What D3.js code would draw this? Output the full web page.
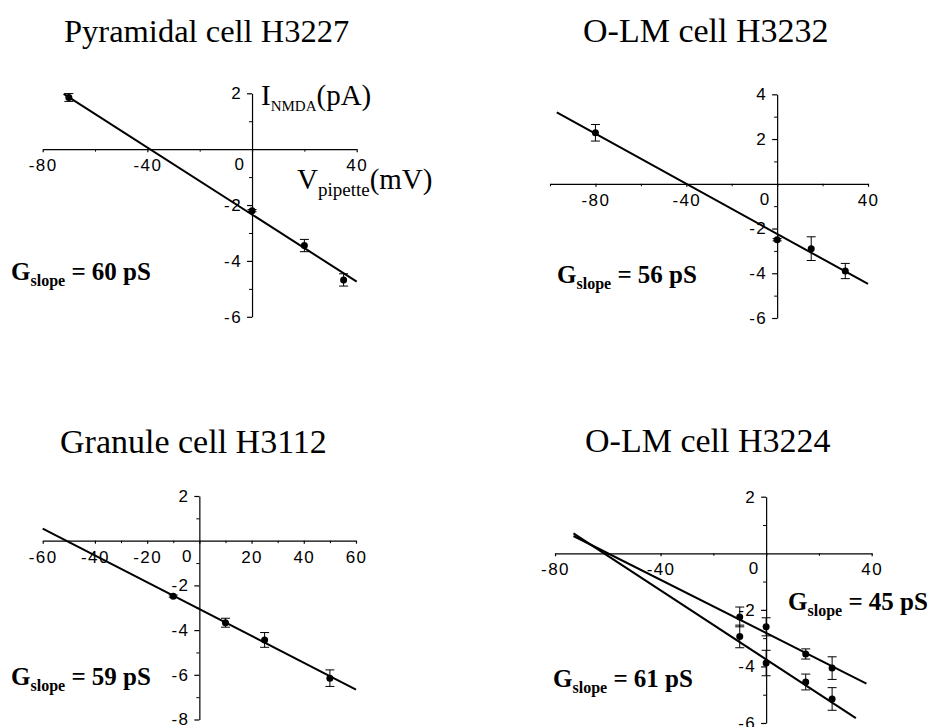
<!DOCTYPE html>
<html>
<head>
<meta charset="utf-8">
<script src="https://cdn.jsdelivr.net/npm/d3@7"></script>
<style>
  body { margin: 0; background: #fff; }
  svg { display: block; }
  .serif { font-family: "Liberation Serif", "Times New Roman", Times, serif; }
  .sans { font-family: "Liberation Sans", Arial, Helvetica, sans-serif; }
</style>
</head>
<body>
<script>
// Pyramidal cell H3227
const pyrV = [-70, 0, 20, 35];
const pyrI = [1.85, -2.2, -3.45, -4.68];
const pyrErr = [0.14, 0.04, 0.22, 0.22];
const pyrFit = { slope: -0.060, vrev: -39, from: -72, to: 40 };

// O-LM cell H3232
const olm1V = [-80, 0, 15, 30];
const olm1I = [2.28, -2.5, -2.9, -3.9];
const olm1Err = [0.37, 0.05, 0.53, 0.34];
const olm1Fit = { slope: -0.056, vrev: -40, from: -97, to: 40 };

// Granule cell H3112
const granV = [-10, 10, 25, 50];
const granI = [-2.48, -3.67, -4.44, -6.15];
const granErr = [0.05, 0.2, 0.33, 0.37];
const granFit = { slope: -0.060, vrev: -51, from: -60, to: 60 };

// O-LM cell H3224 (two fits)
const olm2V = [-10, 0, 15, 25];
const olm2IA = [-2.25, -2.6, -3.56, -4.06];
const olm2ErrA = [0.35, 0.32, 0.18, 0.4];
const olm2IB = [-2.94, -3.88, -4.55, -5.15];
const olm2ErrB = [0.4, 0.45, 0.28, 0.4];
const olm2FitA = { slope: -0.047, vrev: -60, from: -73, to: 38 };
const olm2FitB = { slope: -0.061, vrev: -61.5, from: -73, to: 34 };

const titles = ["Pyramidal cell H3227", "O-LM cell H3232", "Granule cell H3112", "O-LM cell H3224"];
const gLabels = ["60", "56", "59", "45", "61"];

const w = 940, h = 727;
const svg = d3.select("body").append("svg").attr("width", w).attr("height", h);

function panel(cfg) {
  const g = svg.append("g");
  const x = d3.scaleLinear().domain(cfg.xDom).range(cfg.xRange);
  const y = d3.scaleLinear().domain(cfg.yDom).range(cfg.yRange);

  // minor ticks
  g.append("g")
    .attr("transform", "translate(0," + y(0) + ")")
    .call(d3.axisBottom(x).tickValues(cfg.xMinor).tickSize(2.5).tickSizeOuter(0).tickFormat(""))
    .call(a => a.select(".domain").remove());
  g.append("g")
    .attr("transform", "translate(" + x(0) + ",0)")
    .call(d3.axisLeft(y).tickValues(cfg.yMinor).tickSize(3).tickSizeOuter(0).tickFormat(""))
    .call(a => a.select(".domain").remove());

  const xAxis = g.append("g")
    .attr("transform", "translate(0," + y(0) + ")")
    .call(d3.axisBottom(x).tickValues(cfg.xTicks).tickSize(3).tickSizeOuter(0).tickPadding(7)
      .tickFormat(d => d === 0 ? "" : d));
  const yAxis = g.append("g")
    .attr("transform", "translate(" + x(0) + ",0)")
    .call(d3.axisLeft(y).tickValues(cfg.yTicks).tickSize(5).tickSizeOuter(0).tickPadding(5)
      .tickFormat(d => d === 0 ? "" : d));
  [xAxis, yAxis].forEach(a => {
    a.attr("font-size", null).attr("font-family", null);
    a.selectAll("path, line").attr("stroke", "#000").attr("stroke-width", 1.2);
    a.selectAll("text").attr("fill", "#000").attr("class", "sans")
      .style("font-size", "17px").style("letter-spacing", "1.4px");
  });

  g.append("text").attr("class", "sans")
    .attr("x", x(0) - 8).attr("y", y(0) + 9).attr("dy", "0.71em")
    .attr("text-anchor", "end").style("font-size", "17px")
    .text("0");

  // fit lines
  cfg.fits.forEach(f => {
    const fn = v => f.slope * (v - f.vrev);
    g.append("line")
      .attr("x1", x(f.from)).attr("y1", y(fn(f.from)))
      .attr("x2", x(f.to)).attr("y2", y(fn(f.to)))
      .attr("stroke", "#000").attr("stroke-width", 2);
  });

  // points with error bars
  cfg.series.forEach(s => {
    const pts = s.v.map((v, i) => ({ v: v, i: s.i[i], e: s.e[i] }));
    const pg = g.append("g").selectAll("g").data(pts).enter().append("g");
    pg.append("line")
      .attr("x1", d => x(d.v)).attr("x2", d => x(d.v))
      .attr("y1", d => y(d.i - d.e)).attr("y2", d => y(d.i + d.e))
      .attr("stroke", "#000").attr("stroke-width", 1);
    [-1, 1].forEach(sg => {
      pg.append("line")
        .attr("x1", d => x(d.v) - 4.5).attr("x2", d => x(d.v) + 4.5)
        .attr("y1", d => y(d.i + sg * d.e)).attr("y2", d => y(d.i + sg * d.e))
        .attr("stroke", "#000").attr("stroke-width", 1);
    });
    pg.append("circle")
      .attr("cx", d => x(d.v)).attr("cy", d => y(d.i)).attr("r", 3.5)
      .attr("fill", "#000");
  });

  g.append("text").attr("class", "serif")
    .attr("x", cfg.title[1]).attr("y", cfg.title[2])
    .style("font-size", cfg.title[3] + "px")
    .text(cfg.title[0]);

  cfg.gs.forEach(gl => {
    const t = g.append("text").attr("class", "serif")
      .attr("x", gl[1]).attr("y", gl[2])
      .style("font-weight", "bold").style("font-size", "25px");
    t.append("tspan").text("G");
    t.append("tspan").style("font-size", "16px").attr("dy", 6).text("slope");
    t.append("tspan").attr("dy", -6).text(" = " + gl[0] + " pS");
  });
  return { x: x, y: y, g: g };
}

const p1 = panel({
  xDom: [-80, 40], xRange: [42.7, 356.7], yDom: [-6, 2], yRange: [316.8, 93.3],
  xTicks: [-80, -40, 0, 40], xMinor: [-60, -20, 20],
  yTicks: [-6, -4, -2, 2], yMinor: [-5, -3, -1, 1],
  fits: [pyrFit],
  series: [{ v: pyrV, i: pyrI, e: pyrErr }],
  title: [titles[0], 64, 42, 32.5],
  gs: [[gLabels[0], 11, 280]]
});

// axis names on the first panel
const t1 = p1.g.append("text").attr("class", "serif").attr("x", 261).attr("y", 105)
  .style("font-size", "29px");
t1.append("tspan").text("I");
t1.append("tspan").style("font-size", "15px").attr("dy", 6).text("NMDA");
t1.append("tspan").attr("dy", -6).text("(pA)");
const t2 = p1.g.append("text").attr("class", "serif").attr("x", 297).attr("y", 189)
  .style("font-size", "29px");
t2.append("tspan").text("V");
t2.append("tspan").style("font-size", "19px").attr("dy", 7).text("pipette");
t2.append("tspan").attr("dy", -7).text("(mV)");

panel({
  xDom: [-100, 40], xRange: [550, 868], yDom: [-6, 4], yRange: [318, 94.3],
  xTicks: [-80, -40, 0, 40], xMinor: [-100, -60, -20, 20],
  yTicks: [-6, -4, -2, 2, 4], yMinor: [-5, -3, -1, 1, 3],
  fits: [olm1Fit],
  series: [{ v: olm1V, i: olm1I, e: olm1Err }],
  title: [titles[1], 583, 42, 34],
  gs: [[gLabels[1], 557, 283]]
});

panel({
  xDom: [-60, 60], xRange: [42.7, 356], yDom: [-8, 2], yRange: [719.5, 496],
  xTicks: [-60, -40, -20, 0, 20, 40, 60], xMinor: [-50, -30, -10, 10, 30, 50],
  yTicks: [-8, -6, -4, -2, 2], yMinor: [-7, -5, -3, -1, 1],
  fits: [granFit],
  series: [{ v: granV, i: granI, e: granErr }],
  title: [titles[2], 60, 453, 34],
  gs: [[gLabels[2], 11, 685]]
});

panel({
  xDom: [-80, 40], xRange: [555, 871.7], yDom: [-6, 2], yRange: [723, 496.7],
  xTicks: [-80, -40, 0, 40], xMinor: [-60, -20, 20],
  yTicks: [-6, -4, -2, 2], yMinor: [-5, -3, -1, 1],
  fits: [olm2FitA, olm2FitB],
  series: [{ v: olm2V, i: olm2IA, e: olm2ErrA }, { v: olm2V, i: olm2IB, e: olm2ErrB }],
  title: [titles[3], 585, 452, 34],
  gs: [[gLabels[3], 788, 610], [gLabels[4], 553, 687]]
});
</script>
</body>
</html>
